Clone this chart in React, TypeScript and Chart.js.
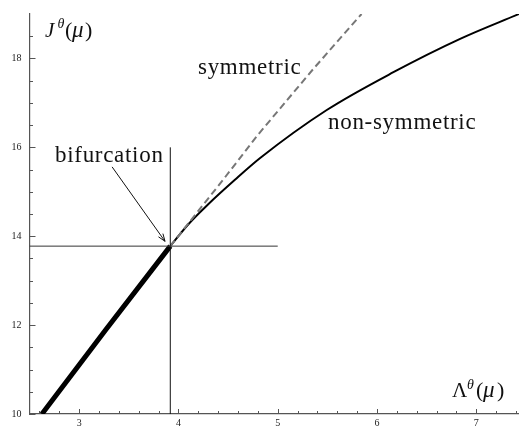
import React, { useEffect, useRef } from "react";
import { Chart, registerables } from "chart.js";

Chart.register(...registerables);

// Branch data (Λ^θ(μ), J^θ(μ))
const lowerX = [2.625, 3.27, 3.918];
const lowerY = [10.0, 11.9, 13.777];
const symX = [3.918, 4.45, 4.8, 5.357, 5.844];
const symY = [13.777, 15.27, 16.28, 17.76, 19.0];
const nonSymX = [3.918, 4.1, 4.3, 4.569, 4.823, 5.494, 6.165, 6.837, 7.43];
const nonSymY = [13.777, 14.27, 14.72, 15.27, 15.76, 16.84, 17.69, 18.44, 19.0];
const bifX = 3.918;
const bifY = 13.777;
const hLineX = [2.5, 5.0];
const vLineY = [10.0, 16.0];
const arrowFrom = [3.332, 15.56];
const arrowTo = [3.865, 13.885];

// Axes
const xRange = [2.5, 7.43];
const yRange = [10, 19];
const xTicks = [3, 4, 5, 6, 7];
const yTicks = [10, 12, 14, 16, 18];
const xMinor = [2.6, 2.8, 3.2, 3.4, 3.6, 3.8, 4.2, 4.4, 4.6, 4.8, 5.2, 5.4, 5.6, 5.8, 6.2, 6.4, 6.6, 6.8, 7.2, 7.4];
const yMinor = [10.5, 11, 11.5, 12.5, 13, 13.5, 14.5, 15, 15.5, 16.5, 17, 17.5, 18.5];

const zip = (xs: number[], ys: number[]) => xs.map((x, i) => ({ x, y: ys[i] }));

const SERIF = '"Liberation Serif", "Times New Roman", serif';
const AXIS_COLOR = "#555";

const decorPlugin = {
  id: "decor",
  afterDatasetsDraw(chart: any) {
    const { ctx, scales } = chart;
    const xs = scales.x;
    const ys = scales.y;
    const area = chart.chartArea;
    ctx.save();
    // inward ticks
    ctx.strokeStyle = AXIS_COLOR;
    ctx.lineWidth = 1;
    ctx.beginPath();
    const bottom = area.bottom;
    const left = area.left;
    xTicks.forEach((v) => {
      const px = Math.round(xs.getPixelForValue(v)) + 0.5;
      ctx.moveTo(px, bottom);
      ctx.lineTo(px, bottom - 5);
    });
    xMinor.forEach((v) => {
      const px = Math.round(xs.getPixelForValue(v)) + 0.5;
      ctx.moveTo(px, bottom);
      ctx.lineTo(px, bottom - 3);
    });
    yTicks.forEach((v) => {
      const py = Math.round(ys.getPixelForValue(v)) + 0.5;
      ctx.moveTo(left, py);
      ctx.lineTo(left + 6, py);
    });
    yMinor.forEach((v) => {
      const py = Math.round(ys.getPixelForValue(v)) + 0.5;
      ctx.moveTo(left, py);
      ctx.lineTo(left + 3.5, py);
    });
    ctx.stroke();

    // arrow
    const ax0 = xs.getPixelForValue(arrowFrom[0]);
    const ay0 = ys.getPixelForValue(arrowFrom[1]);
    const ax1 = xs.getPixelForValue(arrowTo[0]);
    const ay1 = ys.getPixelForValue(arrowTo[1]);
    ctx.strokeStyle = "#111";
    ctx.lineWidth = 1;
    ctx.beginPath();
    ctx.moveTo(ax0, ay0);
    ctx.lineTo(ax1, ay1);
    const ang = Math.atan2(ay1 - ay0, ax1 - ax0);
    const hl = 8;
    const hw = 0.35;
    ctx.moveTo(ax1 - hl * Math.cos(ang - hw), ay1 - hl * Math.sin(ang - hw));
    ctx.lineTo(ax1, ay1);
    ctx.lineTo(ax1 - hl * Math.cos(ang + hw), ay1 - hl * Math.sin(ang + hw));
    ctx.stroke();

    // text labels
    ctx.fillStyle = "#111";
    ctx.textBaseline = "alphabetic";
    ctx.textAlign = "left";
    ctx.font = `23px ${SERIF}`;
    (ctx as any).letterSpacing = "0.7px";
    ctx.fillText("bifurcation", 55, 162);
    ctx.fillText("symmetric", 198, 74);
    ctx.fillText("non-symmetric", 328, 129);
    (ctx as any).letterSpacing = "0px";

    // J^θ(μ)
    ctx.font = `italic 21px ${SERIF}`;
    ctx.fillText("J", 45, 37);
    ctx.font = `italic 14px ${SERIF}`;
    ctx.fillText("θ", 57.5, 28);
    ctx.font = `22px ${SERIF}`;
    ctx.fillText("(", 65, 37);
    ctx.font = `italic 23px ${SERIF}`;
    ctx.fillText("μ", 72, 37);
    ctx.font = `22px ${SERIF}`;
    ctx.fillText(")", 85, 37);

    // Λ^θ(μ)
    ctx.font = `21px ${SERIF}`;
    ctx.fillText("Λ", 452, 397);
    ctx.font = `italic 14px ${SERIF}`;
    ctx.fillText("θ", 467, 389);
    ctx.font = `22px ${SERIF}`;
    ctx.fillText("(", 476, 397);
    ctx.font = `italic 23px ${SERIF}`;
    ctx.fillText("μ", 483, 397);
    ctx.font = `22px ${SERIF}`;
    ctx.fillText(")", 497, 397);
    ctx.restore();
  },
};

export default function App() {
  const canvasRef = useRef<HTMLCanvasElement | null>(null);

  useEffect(() => {
    if (!canvasRef.current) return;
    const chart = new Chart(canvasRef.current, {
      type: "scatter",
      data: {
        datasets: [
          {
            label: "h",
            data: zip(hLineX, [bifY, bifY]),
            showLine: true,
            borderColor: "#333",
            borderWidth: 1,
            pointRadius: 0,
          },
          {
            label: "v",
            data: zip([bifX, bifX], vLineY),
            showLine: true,
            borderColor: "#111",
            borderWidth: 1,
            pointRadius: 0,
          },
          {
            label: "symmetric",
            data: zip(symX, symY),
            showLine: true,
            borderColor: "#777",
            borderWidth: 2,
            borderDash: [7, 4],
            pointRadius: 0,
          },
          {
            label: "non-symmetric",
            data: zip(nonSymX, nonSymY),
            showLine: true,
            borderColor: "#000",
            borderWidth: 2,
            pointRadius: 0,
            cubicInterpolationMode: "monotone",
          },
          {
            label: "lower",
            data: zip(lowerX, lowerY),
            showLine: true,
            borderColor: "#000",
            borderWidth: 5,
            pointRadius: 0,
          },
        ],
      },
      options: {
        animation: false,
        responsive: false,
        devicePixelRatio: 1,
        layout: { padding: { top: 13, right: 0, left: 0, bottom: 0 } },
        plugins: {
          legend: { display: false },
          tooltip: { enabled: false },
        },
        scales: {
          x: {
            type: "linear",
            position: "bottom",
            min: xRange[0],
            max: xRange[1],
            grid: { display: false, drawTicks: false },
            border: { display: true, color: AXIS_COLOR, width: 1.2 },
            ticks: {
              font: { family: SERIF, size: 10 },
              color: "#222",
              padding: 3,
              maxRotation: 0,
              autoSkip: false,
            },
            afterBuildTicks: (s: any) => {
              s.ticks = xTicks.map((v) => ({ value: v }));
            },
            afterFit: (s: any) => {
              s.height = 12;
            },
          },
          y: {
            type: "linear",
            position: "left",
            min: yRange[0],
            max: yRange[1],
            grid: { display: false, drawTicks: false },
            border: { display: true, color: AXIS_COLOR, width: 1.2 },
            ticks: {
              font: { family: SERIF, size: 10 },
              color: "#222",
              padding: 8,
              autoSkip: false,
            },
            afterBuildTicks: (s: any) => {
              s.ticks = yTicks.map((v) => ({ value: v }));
            },
            afterFit: (s: any) => {
              s.width = 29.5;
            },
          },
        },
      } as any,
      plugins: [decorPlugin],
    });
    return () => chart.destroy();
  }, []);

  return (
    <div style={{ position: "absolute", left: 0, top: 0, width: 519, height: 428, background: "#fff" }}>
      <canvas ref={canvasRef} width={519} height={428} />
    </div>
  );
}
